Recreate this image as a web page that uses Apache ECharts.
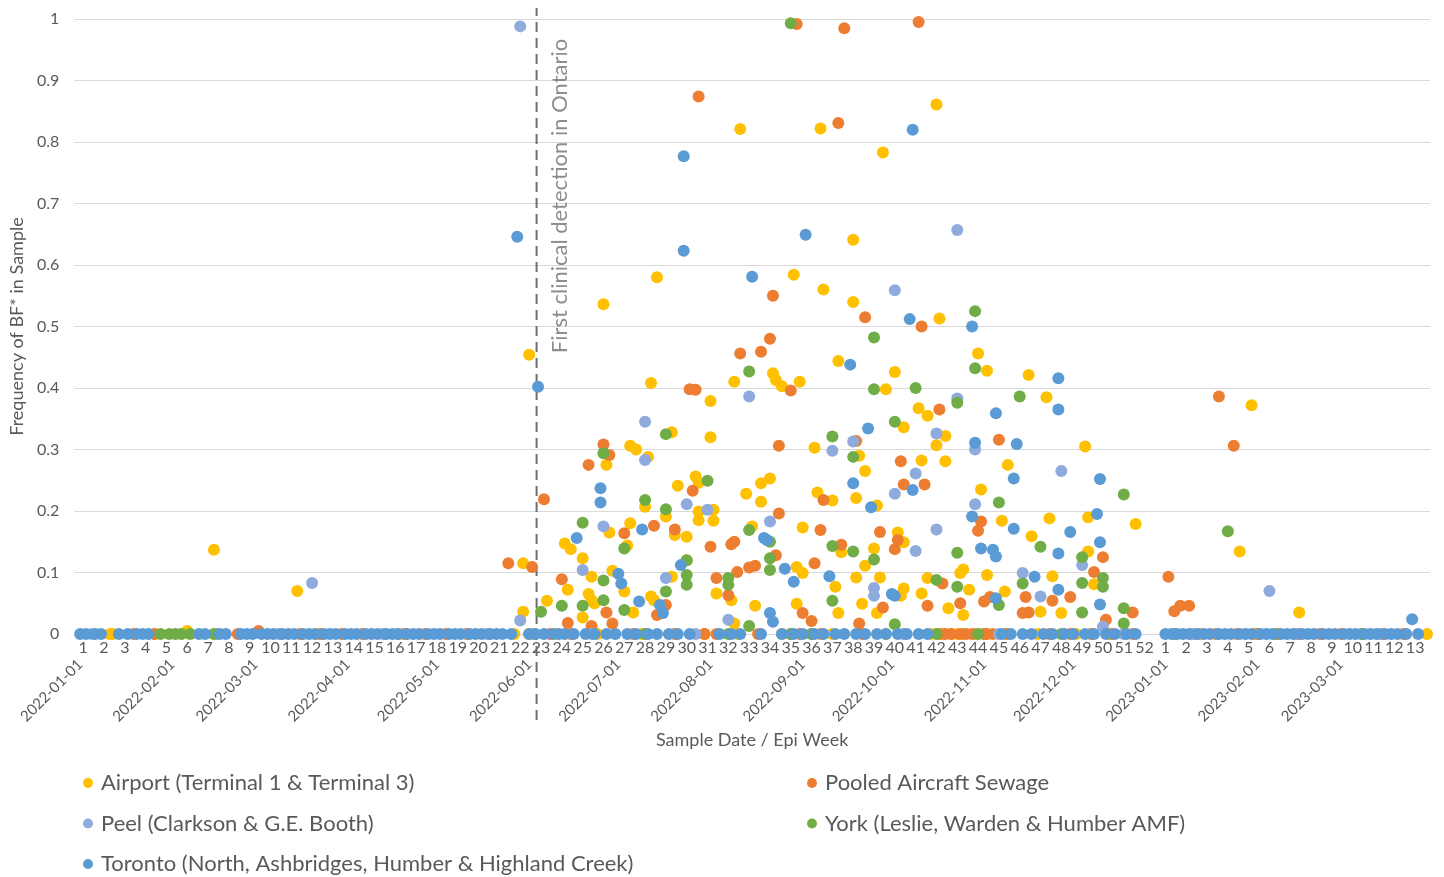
<!DOCTYPE html>
<html>
<head>
<meta charset="utf-8">
<script src="https://cdn.jsdelivr.net/npm/echarts@6/dist/echarts.min.js"></script>
<style>
  html, body { margin: 0; padding: 0; background: #fff; }
  #chart { width: 1444px; height: 877px; }
</style>
</head>
<body>
<div id="chart"></div>
<script>
// ---- Series names ----
const SERIES_AIRPORT = 'Airport (Terminal 1 & Terminal 3)';
const SERIES_POOLED = 'Pooled Aircraft Sewage';
const SERIES_PEEL = 'Peel (Clarkson & G.E. Booth)';
const SERIES_YORK = 'York (Leslie, Warden & Humber AMF)';
const SERIES_TORONTO = 'Toronto (North, Ashbridges, Humber & Highland Creek)';

// ---- Axis ticks ----
const monthTicks = ['2022-01-01','2022-02-01','2022-03-01','2022-04-01','2022-05-01','2022-06-01',
  '2022-07-01','2022-08-01','2022-09-01','2022-10-01','2022-11-01','2022-12-01',
  '2023-01-01','2023-02-01','2023-03-01'];
const epiWeekStart2022 = '2022-01-02';
const epiWeeks2022 = [1,2,3,4,5,6,7,8,9,10,11,12,13,14,15,16,17,18,19,20,21,22,23,24,25,26,
  27,28,29,30,31,32,33,34,35,36,37,38,39,40,41,42,43,44,45,46,47,48,49,50,51,52];
const epiWeekStart2023 = '2023-01-01';
const epiWeeks2023 = [1,2,3,4,5,6,7,8,9,10,11,12,13];
const axisStart = '2021-12-30';
const axisEnd = '2023-03-31';

// ---- First clinical detection ----
const detectionDate = '2022-06-04';
const detectionText = 'First clinical detection in Ontario';

// ---- Samples with a detected frequency: [sample date, frequency] ----
const airportPos = [
  ['2022-02-06',0.005],['2022-02-15',0.137],['2022-03-15',0.070],['2022-05-30',0.115],['2022-05-30',0.036],
  ['2022-06-01',0.454],['2022-06-07',0.054],['2022-06-13',0.147],['2022-06-14',0.072],['2022-06-15',0.138],
  ['2022-06-19',0.123],['2022-06-19',0.027],['2022-06-21',0.065],['2022-06-22',0.093],['2022-06-22',0.055],
  ['2022-06-23',0.050],['2022-06-26',0.536],['2022-06-27',0.275],['2022-06-28',0.165],['2022-06-29',0.103],
  ['2022-07-03',0.069],['2022-07-04',0.144],['2022-07-05',0.306],['2022-07-05',0.180],['2022-07-06',0.035],
  ['2022-07-07',0.300],['2022-07-10',0.207],['2022-07-11',0.288],['2022-07-12',0.408],['2022-07-12',0.061],
  ['2022-07-13',0.055],['2022-07-14',0.580],['2022-07-17',0.191],['2022-07-19',0.328],['2022-07-19',0.093],
  ['2022-07-20',0.161],['2022-07-21',0.241],['2022-07-24',0.158],['2022-07-24',0.120],['2022-07-27',0.256],
  ['2022-07-28',0.246],['2022-07-28',0.199],['2022-07-28',0.185],['2022-08-01',0.379],['2022-08-01',0.320],
  ['2022-08-02',0.202],['2022-08-02',0.184],['2022-08-03',0.066],['2022-08-08',0.055],['2022-08-09',0.410],
  ['2022-08-09',0.017],['2022-08-11',0.821],['2022-08-13',0.228],['2022-08-15',0.175],['2022-08-16',0.046],
  ['2022-08-18',0.245],['2022-08-18',0.215],['2022-08-21',0.253],['2022-08-22',0.424],['2022-08-23',0.413],
  ['2022-08-25',0.403],['2022-08-29',0.584],['2022-08-30',0.109],['2022-08-30',0.049],['2022-08-31',0.410],
  ['2022-09-01',0.173],['2022-09-01',0.099],['2022-09-05',0.303],['2022-09-06',0.230],['2022-09-07',0.822],
  ['2022-09-08',0.560],['2022-09-11',0.217],['2022-09-12',0.077],['2022-09-13',0.444],['2022-09-13',0.034],
  ['2022-09-14',0.133],['2022-09-18',0.641],['2022-09-18',0.540],['2022-09-19',0.221],['2022-09-19',0.092],
  ['2022-09-20',0.290],['2022-09-21',0.049],['2022-09-22',0.265],['2022-09-22',0.111],['2022-09-25',0.139],
  ['2022-09-26',0.209],['2022-09-26',0.034],['2022-09-27',0.092],['2022-09-28',0.783],['2022-09-29',0.398],
  ['2022-10-02',0.426],['2022-10-03',0.165],['2022-10-04',0.062],['2022-10-05',0.336],['2022-10-05',0.149],
  ['2022-10-05',0.074],['2022-10-10',0.367],['2022-10-11',0.282],['2022-10-11',0.066],['2022-10-13',0.355],
  ['2022-10-13',0.091],['2022-10-16',0.861],['2022-10-16',0.307],['2022-10-17',0.513],['2022-10-19',0.322],
  ['2022-10-19',0.281],['2022-10-20',0.042],['2022-10-24',0.099],['2022-10-25',0.105],['2022-10-25',0.031],
  ['2022-10-27',0.072],['2022-10-30',0.456],['2022-10-31',0.235],['2022-11-02',0.428],['2022-11-02',0.096],
  ['2022-11-07',0.184],['2022-11-08',0.069],['2022-11-09',0.275],['2022-11-16',0.421],['2022-11-17',0.159],
  ['2022-11-20',0.036],['2022-11-22',0.385],['2022-11-23',0.188],['2022-11-24',0.094],['2022-11-27',0.034],
  ['2022-12-05',0.305],['2022-12-06',0.190],['2022-12-06',0.134],['2022-12-08',0.081],['2022-12-22',0.179],
  ['2023-01-26',0.134],['2023-01-30',0.372],['2023-02-15',0.035]
];
const pooledPos = [
  ['2022-03-02',0.005],['2022-05-25',0.115],['2022-06-02',0.109],['2022-06-06',0.219],['2022-06-12',0.089],
  ['2022-06-14',0.018],['2022-06-21',0.275],['2022-06-22',0.013],['2022-06-26',0.308],['2022-06-27',0.035],
  ['2022-06-28',0.291],['2022-06-29',0.017],['2022-07-03',0.164],['2022-07-13',0.176],['2022-07-14',0.031],
  ['2022-07-17',0.047],['2022-07-20',0.170],['2022-07-25',0.398],['2022-07-26',0.233],['2022-07-27',0.397],
  ['2022-07-28',0.874],['2022-08-01',0.142],['2022-08-03',0.091],['2022-08-07',0.063],['2022-08-08',0.146],
  ['2022-08-09',0.150],['2022-08-10',0.101],['2022-08-11',0.456],['2022-08-14',0.108],['2022-08-16',0.111],
  ['2022-08-18',0.459],['2022-08-21',0.480],['2022-08-22',0.550],['2022-08-23',0.128],['2022-08-24',0.306],
  ['2022-08-24',0.196],['2022-08-28',0.396],['2022-08-30',0.992],['2022-09-01',0.034],['2022-09-04',0.021],
  ['2022-09-05',0.115],['2022-09-07',0.169],['2022-09-08',0.218],['2022-09-13',0.831],['2022-09-14',0.145],
  ['2022-09-15',0.985],['2022-09-19',0.314],['2022-09-20',0.017],['2022-09-22',0.515],['2022-09-27',0.166],
  ['2022-09-28',0.043],['2022-10-02',0.138],['2022-10-03',0.153],['2022-10-04',0.281],['2022-10-05',0.243],
  ['2022-10-10',0.995],['2022-10-11',0.500],['2022-10-12',0.243],['2022-10-13',0.046],['2022-10-17',0.365],
  ['2022-10-18',0.082],['2022-10-24',0.050],['2022-10-30',0.168],['2022-10-31',0.183],['2022-11-01',0.053],
  ['2022-11-03',0.060],['2022-11-06',0.316],['2022-11-14',0.034],['2022-11-15',0.060],['2022-11-16',0.035],
  ['2022-11-24',0.054],['2022-11-30',0.060],['2022-12-08',0.101],['2022-12-11',0.125],['2022-12-12',0.023],
  ['2022-12-21',0.035],['2023-01-02',0.093],['2023-01-04',0.037],['2023-01-06',0.046],['2023-01-09',0.046],
  ['2023-01-19',0.386],['2023-01-24',0.306]
];
const peelPos = [
  ['2022-03-20',0.083],['2022-05-29',0.988],['2022-05-29',0.022],['2022-06-19',0.104],['2022-06-26',0.175],
  ['2022-07-10',0.345],['2022-07-10',0.283],['2022-07-17',0.091],['2022-07-24',0.211],['2022-07-31',0.202],
  ['2022-08-07',0.023],['2022-08-14',0.386],['2022-08-21',0.183],['2022-09-11',0.298],['2022-09-18',0.313],
  ['2022-09-25',0.075],['2022-09-25',0.062],['2022-10-02',0.559],['2022-10-02',0.228],['2022-10-09',0.261],
  ['2022-10-09',0.135],['2022-10-16',0.326],['2022-10-16',0.170],['2022-10-23',0.657],['2022-10-23',0.383],
  ['2022-10-29',0.300],['2022-10-29',0.211],['2022-11-14',0.099],['2022-11-20',0.061],['2022-11-27',0.265],
  ['2022-12-04',0.112],['2022-12-11',0.012],['2023-02-05',0.070]
];
const yorkPos = [
  ['2022-06-05',0.036],['2022-06-12',0.046],['2022-06-19',0.181],['2022-06-19',0.046],['2022-06-26',0.294],
  ['2022-06-26',0.087],['2022-06-26',0.055],['2022-07-03',0.139],['2022-07-03',0.039],['2022-07-10',0.218],
  ['2022-07-17',0.325],['2022-07-17',0.203],['2022-07-17',0.069],['2022-07-24',0.120],['2022-07-24',0.096],
  ['2022-07-24',0.080],['2022-07-31',0.249],['2022-08-07',0.091],['2022-08-07',0.080],['2022-08-14',0.427],
  ['2022-08-14',0.169],['2022-08-14',0.013],['2022-08-21',0.150],['2022-08-21',0.123],['2022-08-21',0.104],
  ['2022-08-28',0.993],['2022-09-11',0.321],['2022-09-11',0.143],['2022-09-11',0.054],['2022-09-18',0.288],
  ['2022-09-18',0.134],['2022-09-25',0.482],['2022-09-25',0.398],['2022-09-25',0.121],['2022-10-02',0.345],
  ['2022-10-02',0.016],['2022-10-09',0.400],['2022-10-16',0.088],['2022-10-23',0.376],['2022-10-23',0.132],
  ['2022-10-23',0.077],['2022-10-29',0.525],['2022-10-29',0.432],['2022-11-06',0.214],['2022-11-06',0.047],
  ['2022-11-13',0.386],['2022-11-14',0.082],['2022-11-20',0.142],['2022-12-04',0.125],['2022-12-04',0.083],
  ['2022-12-04',0.035],['2022-12-11',0.091],['2022-12-11',0.077],['2022-12-18',0.227],['2022-12-18',0.042],
  ['2022-12-18',0.017],['2023-01-22',0.167]
];
const torontoPos = [
  ['2022-05-28',0.646],['2022-06-04',0.402],['2022-06-17',0.156],['2022-06-25',0.237],['2022-06-25',0.214],
  ['2022-07-01',0.098],['2022-07-02',0.082],['2022-07-08',0.053],['2022-07-09',0.170],['2022-07-15',0.047],
  ['2022-07-16',0.034],['2022-07-22',0.112],['2022-07-23',0.777],['2022-07-23',0.623],['2022-08-15',0.581],
  ['2022-08-19',0.156],['2022-08-20',0.153],['2022-08-21',0.034],['2022-08-22',0.020],['2022-08-26',0.106],
  ['2022-08-29',0.085],['2022-09-02',0.649],['2022-09-10',0.094],['2022-09-17',0.438],['2022-09-18',0.245],
  ['2022-09-23',0.334],['2022-09-24',0.206],['2022-10-01',0.065],['2022-10-02',0.062],['2022-10-07',0.512],
  ['2022-10-08',0.820],['2022-10-08',0.234],['2022-10-28',0.500],['2022-10-28',0.191],['2022-10-29',0.311],
  ['2022-10-31',0.139],['2022-11-04',0.137],['2022-11-05',0.359],['2022-11-05',0.126],['2022-11-05',0.058],
  ['2022-11-11',0.253],['2022-11-11',0.171],['2022-11-12',0.309],['2022-11-18',0.093],['2022-11-26',0.416],
  ['2022-11-26',0.365],['2022-11-26',0.131],['2022-11-26',0.072],['2022-11-30',0.166],['2022-12-09',0.195],
  ['2022-12-10',0.252],['2022-12-10',0.149],['2022-12-10',0.048],['2023-03-25',0.024]
];

// ---- Samples with no detection (frequency 0): sample dates ----
const airportZero = ('2022-01-11 2022-01-12 2022-01-26 2022-03-22 2022-05-27 2022-06-10 2022-06-24 2022-07-09 ' +
  '2022-07-30 2022-08-10 2022-08-25 2022-09-11 2022-09-29 2022-10-14 2022-10-18 2022-10-21 2022-10-23 ' +
  '2022-10-25 2022-10-29 2022-11-01 2022-11-08 2022-11-19 2022-12-02 2022-12-13 2023-01-13 2023-01-31 ' +
  '2023-02-14 2023-03-30').split(' ');
const pooledZero = ('2022-01-19 2022-01-26 2022-02-23 2022-03-09 2022-03-16 2022-03-23 2022-03-30 2022-04-06 ' +
  '2022-04-13 2022-04-20 2022-04-27 2022-05-04 2022-05-11 2022-05-18 2022-06-01 2022-06-08 2022-06-15 ' +
  '2022-07-06 2022-07-20 2022-07-30 2022-08-03 2022-08-17 2022-08-31 2022-09-07 2022-09-21 2022-10-05 ' +
  '2022-10-17 2022-10-19 2022-10-21 2022-10-24 2022-10-26 2022-10-28 2022-11-01 2022-11-02 2022-11-04 ' +
  '2022-11-09 2022-11-23 2022-11-30 2022-12-07 2022-12-14 2022-12-21 2023-01-11 2023-01-18 2023-01-25 ' +
  '2023-02-01 2023-02-08 2023-02-15 2023-02-22 2023-03-01 2023-03-08 2023-03-15 2023-03-22').split(' ');
const peelZero = ('2022-01-05 2022-02-16 2022-03-09 2022-04-13 2022-05-18 2022-06-22 2022-07-27 2022-08-28 ' +
  '2022-09-04 2022-10-05 2022-11-06 2022-12-18 2023-01-10 2023-02-14 2023-03-14').split(' ');
const yorkZero = ('2022-01-28 2022-01-31 2022-02-02 2022-02-04 2022-02-07 2022-02-15 2022-04-18 2022-06-03 ' +
  '2022-07-10 2022-08-07 2022-08-28 2022-09-04 2022-10-16 2022-10-30 2022-11-27 2023-01-04 2023-02-07 ' +
  '2023-03-08').split(' ');
const torontoZero = ('2022-01-01 2022-01-03 2022-01-06 2022-01-08 2022-01-14 2022-01-17 2022-01-20 2022-01-22 2022-01-24 ' +
  '2022-02-10 2022-02-12 2022-02-17 2022-02-19 2022-02-24 2022-02-26 2022-02-28 ' +
  '2022-03-03 2022-03-05 2022-03-07 2022-03-10 2022-03-12 2022-03-14 2022-03-17 2022-03-19 2022-03-21 2022-03-24 2022-03-26 2022-03-28 2022-03-31 ' +
  '2022-04-02 2022-04-04 2022-04-07 2022-04-09 2022-04-11 2022-04-14 2022-04-16 2022-04-18 2022-04-21 2022-04-23 2022-04-25 2022-04-28 2022-04-30 ' +
  '2022-05-02 2022-05-05 2022-05-07 2022-05-09 2022-05-12 2022-05-14 2022-05-16 2022-05-19 2022-05-21 2022-05-23 2022-05-26 ' +
  '2022-06-01 2022-06-03 2022-06-06 2022-06-09 2022-06-11 2022-06-13 2022-06-16 2022-06-20 2022-06-23 2022-06-27 2022-06-30 ' +
  '2022-07-04 2022-07-07 2022-07-11 2022-07-14 2022-07-18 2022-07-21 2022-07-25 ' +
  '2022-08-04 2022-08-08 2022-08-11 2022-08-18 2022-08-25 2022-08-29 ' +
  '2022-09-01 2022-09-05 2022-09-08 2022-09-12 2022-09-15 2022-09-19 2022-09-22 2022-09-26 2022-09-29 ' +
  '2022-10-03 2022-10-06 2022-10-10 2022-10-13 ' +
  '2022-11-07 2022-11-10 2022-11-14 2022-11-17 2022-11-21 2022-11-24 2022-11-28 ' +
  '2022-12-01 2022-12-05 2022-12-08 2022-12-12 2022-12-15 2022-12-19 2022-12-22 ' +
  '2023-01-01 2023-01-03 2023-01-05 2023-01-07 2023-01-09 2023-01-12 2023-01-14 2023-01-16 2023-01-19 2023-01-21 2023-01-23 2023-01-26 2023-01-28 2023-01-30 ' +
  '2023-02-02 2023-02-04 2023-02-06 2023-02-09 2023-02-11 2023-02-13 2023-02-16 2023-02-18 2023-02-20 2023-02-23 2023-02-25 2023-02-27 ' +
  '2023-03-02 2023-03-04 2023-03-06 2023-03-09 2023-03-11 2023-03-13 2023-03-16 2023-03-18 2023-03-20 2023-03-23 2023-03-27').split(' ');

// ---- Helpers: dates become day timestamps on a value axis ----
function ts(s, addDays) {
  const p = s.split('-').map(Number);
  return new Date(p[0], p[1] - 1, p[2] + (addDays || 0)).getTime();
}
function withZeros(zeros, pos) {
  return zeros.map(d => [ts(d), 0]).concat(pos.map(p => [ts(p[0]), p[1]]));
}
function nearestLabel(list, v) {
  let best = list[0], bd = Infinity;
  for (const it of list) { const dd = Math.abs(it[0] - v); if (dd < bd) { bd = dd; best = it; } }
  return bd < 86400000 ? best[1] : '';
}

const weekTickList = epiWeeks2022.map(w => [ts(epiWeekStart2022, 7 * (w - 1)), String(w)])
  .concat(epiWeeks2023.map(w => [ts(epiWeekStart2023, 7 * (w - 1)), String(w)]));
const monthTickList = monthTicks.map(m => [ts(m), m]);

const FONT = 'Lato, "Open Sans", "DejaVu Sans", sans-serif';
const GREY = '#595959';
const X_MIN = ts(axisStart), X_MAX = ts(axisEnd);

const chart = echarts.init(document.getElementById('chart'), null, { renderer: 'canvas' });

function dotSeries(name, color, data) {
  return {
    name, type: 'scatter', xAxisIndex: 0, yAxisIndex: 0,
    symbol: 'circle', symbolSize: 12,
    itemStyle: { color, opacity: 1 },
    data, z: 3
  };
}

const legendText = { fontSize: 22, lineHeight: 22, color: GREY, fontFamily: FONT, padding: [0, 0, 0, 3] };
const hiddenAxisParts = { axisLine: { show: false }, axisTick: { show: false }, splitLine: { show: false } };

chart.setOption({
  animation: false,
  backgroundColor: '#ffffff',
  textStyle: { fontFamily: FONT },
  grid: [
    { left: 72, right: 14, top: 19, bottom: 243 },
    { left: 72, right: 14, top: 8, bottom: 157 }
  ],
  xAxis: [
    Object.assign({
      type: 'value', gridIndex: 0, min: X_MIN, max: X_MAX, position: 'bottom',
      axisLabel: {
        customValues: weekTickList.map(d => d[0]),
        formatter: v => nearestLabel(weekTickList, v),
        color: GREY, fontSize: 16, margin: 6, fontFamily: FONT, hideOverlap: false
      }
    }, hiddenAxisParts),
    Object.assign({
      type: 'value', gridIndex: 0, min: X_MIN, max: X_MAX, position: 'bottom',
      name: 'Sample Date / Epi Week', nameLocation: 'middle', nameGap: 97,
      nameTextStyle: { color: GREY, fontSize: 18, fontFamily: FONT },
      axisLabel: {
        customValues: monthTickList.map(d => d[0]),
        formatter: v => nearestLabel(monthTickList, v),
        rotate: 45, margin: 28,
        color: GREY, fontSize: 15, fontFamily: FONT, hideOverlap: false
      }
    }, hiddenAxisParts),
    { type: 'value', gridIndex: 1, min: X_MIN, max: X_MAX, show: false }
  ],
  yAxis: [
    {
      type: 'value', gridIndex: 0, min: 0, max: 1, interval: 0.1,
      axisLine: { show: false }, axisTick: { show: false },
      splitLine: { lineStyle: { color: '#d9d9d9', width: 1 } },
      axisLabel: { color: GREY, fontSize: 16, margin: 15, fontFamily: FONT },
      name: 'Frequency of BF* in Sample', nameLocation: 'middle', nameGap: 46, nameRotate: 90,
      nameTextStyle: { color: GREY, fontSize: 18, fontFamily: FONT }
    },
    { type: 'value', gridIndex: 1, min: 0, max: 1, show: false }
  ],
  legend: [
    {
      left: 83, top: 772, orient: 'vertical', padding: 0, itemGap: 18.5, itemWidth: 10, itemHeight: 10,
      icon: 'circle', selectedMode: false, textStyle: legendText,
      data: [SERIES_AIRPORT, SERIES_PEEL, SERIES_TORONTO]
    },
    {
      left: 807, top: 772, orient: 'vertical', padding: 0, itemGap: 18.5, itemWidth: 10, itemHeight: 10,
      icon: 'circle', selectedMode: false, textStyle: legendText,
      data: [SERIES_POOLED, SERIES_YORK]
    }
  ],
  series: [
    {
      name: detectionText, type: 'line', xAxisIndex: 2, yAxisIndex: 1,
      data: [[ts(detectionDate), 0], [ts(detectionDate), 1]],
      symbol: 'none', silent: true, z: 1,
      lineStyle: { color: '#6f6f6f', width: 2, type: [10, 6] }
    },
    {
      name: 'annotation', type: 'scatter', xAxisIndex: 2, yAxisIndex: 1,
      data: [[ts('2022-06-12'), 0.736]], symbolSize: 0, silent: true, z: 1,
      label: {
        show: true, position: 'inside', rotate: 90, formatter: detectionText,
        color: '#707070', fontSize: 22, fontFamily: FONT
      }
    },
    dotSeries(SERIES_AIRPORT, '#FFC000', withZeros(airportZero, airportPos)),
    dotSeries(SERIES_POOLED, '#ED7D31', withZeros(pooledZero, pooledPos)),
    dotSeries(SERIES_PEEL, '#8FAADC', withZeros(peelZero, peelPos)),
    dotSeries(SERIES_YORK, '#70AD47', withZeros(yorkZero, yorkPos)),
    dotSeries(SERIES_TORONTO, '#5B9BD5', withZeros(torontoZero, torontoPos))
  ]
});
</script>
</body>
</html>
